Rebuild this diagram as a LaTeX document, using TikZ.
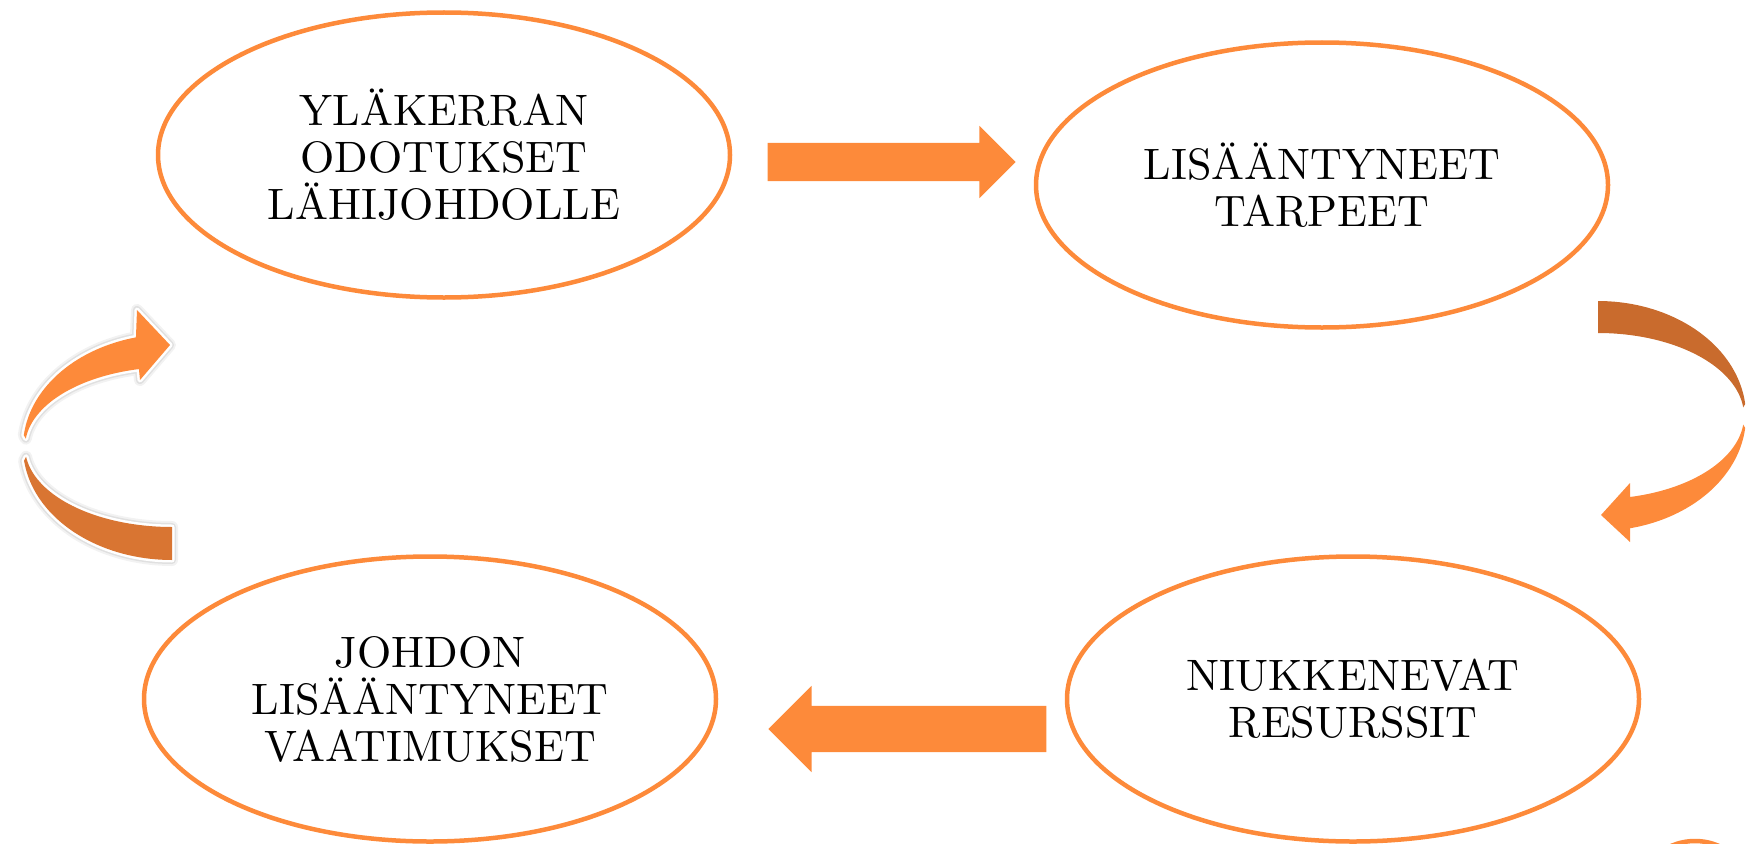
\documentclass[tikz,border=0pt]{standalone}
\usepackage{fontspec}
\setmainfont{lmroman10-regular.otf}
\usetikzlibrary{shapes.geometric,shapes.arrows}
\definecolor{oranssi}{RGB}{253,138,58}
\definecolor{ruskea}{RGB}{201,107,45}
\definecolor{ruskea2}{RGB}{217,117,50}

\tikzset{pallo/.style={ellipse,draw=oranssi,line width=4.5pt,fill=white,
minimum width=#1,minimum height=285pt,inner sep=0pt,align=center,
font=\fontsize{44}{47}\selectfont},
pallo/.default={572pt},
nuoli/.style={single arrow,fill=oranssi,inner xsep=0pt,inner ysep=#1,
single arrow tip angle=90},
hehku/.style={preaction={draw=black!5,line width=12pt,line join=round},
preaction={draw=black!12,line width=8pt,line join=round},
preaction={draw=white,line width=5pt,line join=round}}}

\begin{document}
\begin{tikzpicture}[x=1pt,y=-1pt]
\useasboundingbox (0,0) rectangle (1747,843);
\node [pallo] (ylakerta) at (444,155) {YLÄKERRAN\\ODOTUKSET\\LÄHIJOHDOLLE};
\node [pallo] (tarpeet) at (1322,185) {LISÄÄNTYNEET\\TARPEET};
\node [pallo] (vaatimukset) at (430,699) {JOHDON\\LISÄÄNTYNEET\\VAATIMUKSET};
\node [pallo] (resurssit) at (1353,699) {NIUKKENEVAT\\RESURSSIT};
\node [pallo=120pt,minimum height=120pt] (seuraava) at (1695,901) {};
% suorat nuolet
\node [nuoli=19pt,minimum height=248pt,single arrow head extend=17pt] (nuoli1) at (882,162) {};
\node [nuoli=23pt,minimum height=278pt,single arrow head extend=20pt,
	shape border rotate=180] (nuoli2) at (919,729) {};
% kaareva nuoli oikealla
\fill [ruskea] plot[domain=270:354,samples=40] ({1598+148*cos(\x)},{416+115*sin(\x)})
	-- plot[domain=354:270,samples=40] ({1598+146*cos(\x)},{416+83*sin(\x)}) -- cycle;
\fill [oranssi] plot[domain=6:77.5,samples=40] ({1598+148*cos(\x)},{416+115*sin(\x)})
	-- (1630,542) -- (1601,515) -- (1630,483)
	-- plot[domain=77.3:6,samples=40] ({1598+146*cos(\x)},{416+83*sin(\x)}) -- cycle;
% kaareva nuoli vasemmalla
\fill [ruskea2,hehku] plot[domain=173:90,samples=40] ({172+149*cos(\x)},{447+113*sin(\x)})
	-- plot[domain=90:173,samples=40] ({172+147*cos(\x)},{447+80*sin(\x)}) -- cycle;
\fill [oranssi,hehku] plot[domain=256:186,samples=40] ({172+149*cos(\x)},{447+113*sin(\x)})
	-- plot[domain=186:257,samples=40] ({172+147*cos(\x)},{447+80*sin(\x)})
	-- (140,380) -- (170,345) -- (137,310) -- cycle;
\end{tikzpicture}
\end{document}
